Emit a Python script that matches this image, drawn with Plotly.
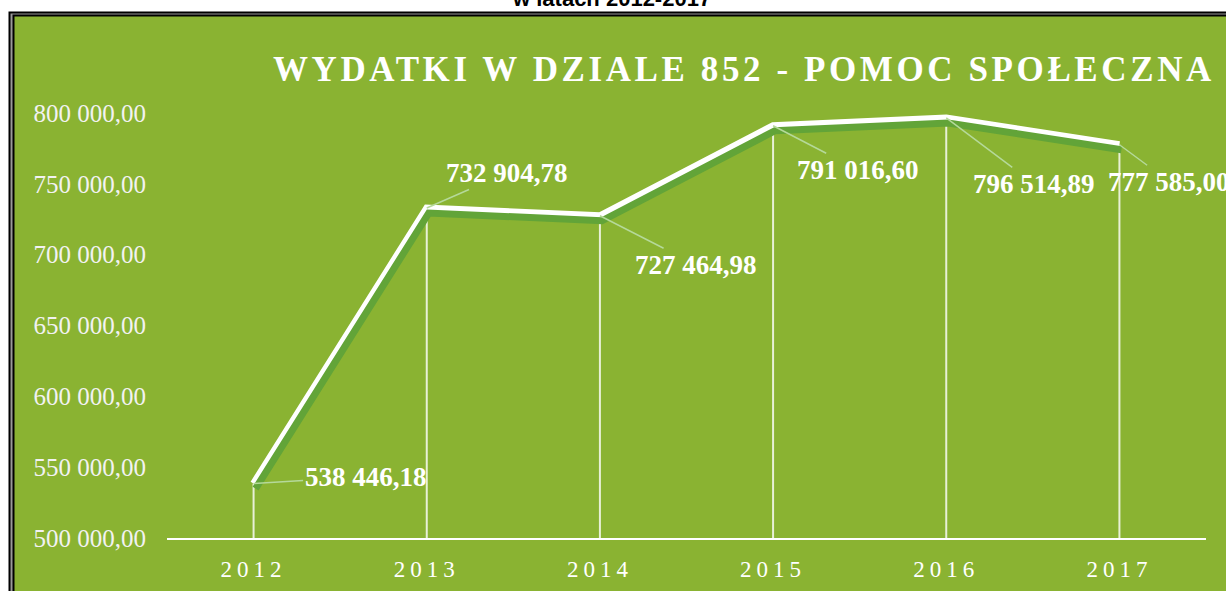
import plotly.graph_objects as go

years = [2012, 2013, 2014, 2015, 2016, 2017]
values = [538446.18, 732904.78, 727464.98, 791016.60, 796514.89, 777585.00]
y_ticks = [500000, 550000, 600000, 650000, 700000, 750000, 800000]
title_text = "WYDATKI W DZIALE 852 - POMOC SPOŁECZNA"
top_text = "w latach 2012-2017"

def pl(v):
    return f"{v:,.2f}".replace(",", " ").replace(".", ",")

W, H = 1226, 591
L, R, T, B = 167, 20, 113, 53
pw, ph = W - L - R, H - T - B
def xp(px): return (px - L) / pw
def yp(py): return (H - B - py) / ph

GREEN = "#8AB332"
SHADOW = "#62A438"
LEADER = "#B5D99A"
SERIF = "Liberation Serif"

fig = go.Figure()

# shadow line (offset axes)
fig.add_trace(go.Scatter(x=years, y=values, mode="lines", xaxis="x2", yaxis="y2",
                         line=dict(color=SHADOW, width=7), hoverinfo="skip", showlegend=False))
# main line with drop lines
fig.add_trace(go.Scatter(x=years, y=values, mode="lines",
                         line=dict(color="white", width=7),
                         error_y=dict(type="data", symmetric=False,
                                      array=[0] * len(values),
                                      arrayminus=[v - y_ticks[0] for v in values],
                                      color="rgba(255,255,255,0.8)", thickness=2, width=0),
                         showlegend=False, cliponaxis=False))

offsets = [(112, -7), (80, -35), (96, 49), (85, 44), (88, 66), (50, 37)]
for yr, v, (ax, ay) in zip(years, values, offsets):
    fig.add_annotation(x=yr, y=v, text=f"<b>{pl(v)}</b>", showarrow=True, arrowhead=0,
                       arrowwidth=1.5, arrowcolor=LEADER, ax=ax, ay=ay, standoff=0,
                       font=dict(family=SERIF, size=27, color="white"))

fig.add_annotation(xref="paper", yref="paper", x=xp(744), y=yp(48),
                   text=f'<b><span style="letter-spacing:3.6px">{title_text}</span></b>',
                   showarrow=False, font=dict(family=SERIF, size=35, color="white"))
fig.add_annotation(xref="paper", yref="paper", x=xp(611), y=yp(13), yanchor="bottom",
                   text=f"<b>{top_text}</b>", showarrow=False,
                   font=dict(family="Liberation Sans", size=22, color="black"))

shapes = [
    dict(type="rect", xref="paper", yref="paper", x0=xp(9.5), x1=xp(1240), y0=yp(12.5), y1=yp(600),
         line=dict(color="black", width=2), fillcolor="#9a9a9a", layer="below"),
    dict(type="rect", xref="paper", yref="paper", x0=xp(13.5), x1=xp(1240), y0=yp(15.5), y1=yp(600),
         line=dict(color="black", width=2), fillcolor=GREEN, layer="below"),
]

sh_dx = 2 / 173.2
sh_dy = 5 * (y_ticks[-1] - y_ticks[0]) / ph

fig.update_layout(
    width=W, height=H, margin=dict(l=L, r=R, t=T, b=B),
    paper_bgcolor="white", plot_bgcolor=GREEN,
    shapes=shapes, showlegend=False,
    xaxis=dict(range=[years[0] - 0.5, years[-1] + 0.5], tickvals=years,
               ticktext=[f'<span style="letter-spacing:5px">{y}</span>' for y in years],
               showgrid=False, zeroline=False, showline=True, linecolor="white", linewidth=2,
               ticks="", ticklabelstandoff=9, automargin=False,
               tickfont=dict(family=SERIF, size=23, color="white")),
    yaxis=dict(range=[y_ticks[0], y_ticks[-1]], tickvals=y_ticks,
               ticktext=[pl(t) for t in y_ticks], showgrid=False, zeroline=False,
               showline=False, ticks="", ticklabelstandoff=20, automargin=False,
               tickfont=dict(family=SERIF, size=25, color="#F2F2F2")),
    xaxis2=dict(range=[years[0] - 0.5 - sh_dx, years[-1] + 0.5 - sh_dx], overlaying="x",
                visible=False),
    yaxis2=dict(range=[y_ticks[0] + sh_dy, y_ticks[-1] + sh_dy], overlaying="y", visible=False),
)

fig.write_html("out.html", config={"displayModeBar": False},
               post_script="document.body.style.margin='0';document.body.style.overflow='hidden';")
